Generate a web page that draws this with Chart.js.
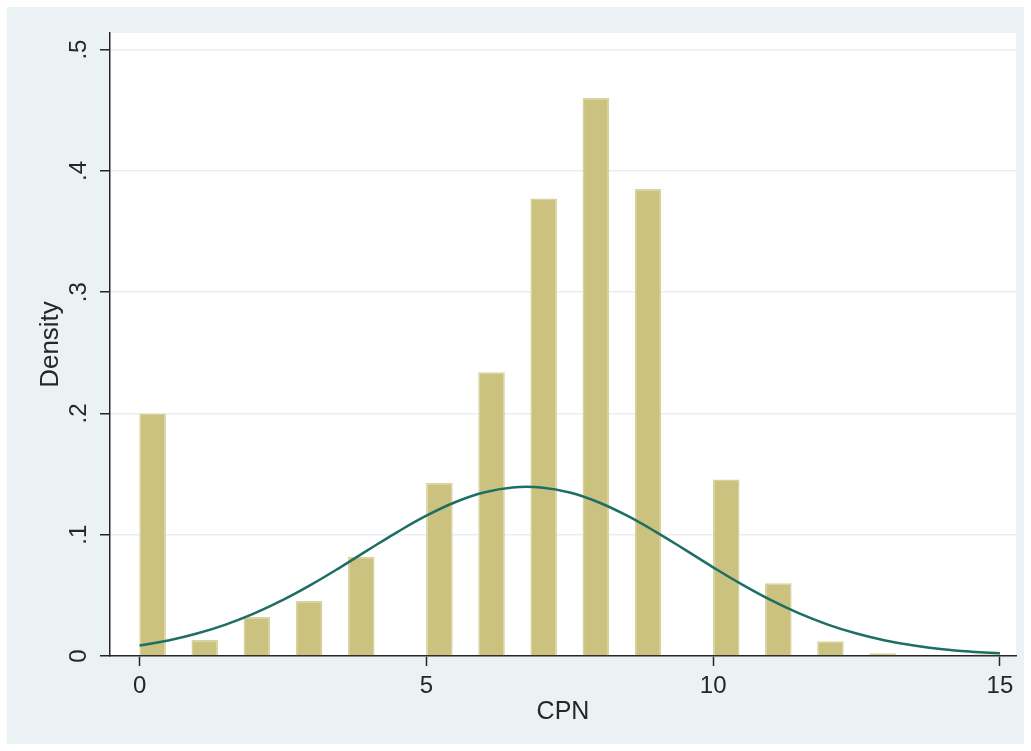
<!DOCTYPE html>
<html lang="en">
<head>
<meta charset="UTF-8">
<title>CPN density</title>
<script src="https://cdn.jsdelivr.net/npm/chart.js"></script>
<style>
  html, body { margin: 0; padding: 0; background: #fff; overflow: hidden; }
  #wrap { width: 1031px; height: 751px; }
</style>
</head>
<body>
<div id="wrap"><canvas id="histChart"></canvas></div>
<script>
// histogram bars: centre of each bar on the CPN axis and its density
const binCenters = [0.227, 1.136, 2.045, 2.955, 3.864, 5.227, 6.136, 7.045, 7.955, 8.864, 10.227, 11.136, 12.045, 12.955, 14.773];
const densities  = [0.200, 0.0132, 0.0321, 0.0453, 0.0818, 0.1427, 0.2340, 0.3772, 0.4602, 0.3850, 0.1456, 0.0599, 0.0121, 0.0022, 0.0015];

// normal curve overlay, every half unit
const curveX = [0, 0.5, 1, 1.5, 2, 2.5, 3, 3.5, 4, 4.5, 5, 5.5, 6, 6.5, 7, 7.5, 8, 8.5, 9, 9.5, 10, 10.5, 11, 11.5, 12, 12.5, 13, 13.5, 14, 14.5, 15];
const curveY = [0.0086, 0.0128, 0.0185, 0.0259, 0.0351, 0.0462, 0.0590, 0.0731, 0.0879, 0.1024, 0.1157, 0.1268, 0.1348, 0.1390, 0.1390, 0.1348, 0.1268, 0.1157, 0.1024, 0.0879, 0.0731, 0.0590, 0.0462, 0.0351, 0.0259, 0.0185, 0.0128, 0.0086, 0.0056, 0.0036, 0.0022];

const xTicks = [0, 5, 10, 15];
const yTicks = [0, 0.1, 0.2, 0.3, 0.4, 0.5];

const FONT = "'Liberation Sans', Arial, sans-serif";
const INK = '#262626';

// light outer frame + white plot region, like the Stata s2color scheme
const stataBackground = {
    id: 'stataBackground',
    beforeDraw(chart) {
        const { ctx, width, height, chartArea: a } = chart;
        ctx.save();
        ctx.fillStyle = '#ffffff';
        ctx.fillRect(0, 0, width, height);
        ctx.fillStyle = '#eaf2f3';
        ctx.fillRect(7, 7, width - 14, height - 14);
        ctx.fillStyle = '#ffffff';
        ctx.fillRect(a.left, a.top, a.right - a.left, a.bottom - a.top);
        ctx.restore();
    }
};

new Chart(document.getElementById('histChart'), {
    type: 'bar',
    data: {
        datasets: [
            {
                type: 'line',
                data: curveX.map((x, i) => ({ x: x, y: curveY[i] })),
                borderColor: '#1d6e64',
                borderWidth: 2.5,
                pointRadius: 0,
                tension: 0.4,
                fill: false,
                order: 0
            },
            {
                type: 'bar',
                data: binCenters.map((x, i) => ({ x: x, y: densities[i] })),
                backgroundColor: '#cac27e',
                borderColor: '#d8d29c',
                borderWidth: 1.5,
                categoryPercentage: 1,
                barPercentage: 0.51,
                order: 1
            }
        ]
    },
    options: {
        responsive: true,
        maintainAspectRatio: false,
        animation: false,
        layout: { padding: { left: 0, top: 33, right: 15, bottom: 0 } },
        plugins: {
            legend: { display: false },
            tooltip: { enabled: false }
        },
        scales: {
            x: {
                type: 'linear',
                offset: false,
                min: -0.516,
                max: 15.28,
                afterBuildTicks: (s) => { s.ticks = xTicks.map(v => ({ value: v })); },
                afterFit: (s) => { s.height = 95; },
                grid: { display: true, offset: false, drawOnChartArea: false, drawTicks: true, tickLength: 10, tickColor: INK, tickWidth: 1.5 },
                border: { display: true, color: INK, width: 1.5 },
                ticks: {
                    autoSkip: false,
                    maxRotation: 0,
                    padding: 6,
                    color: INK,
                    font: { family: FONT, size: 24 },
                    callback: (v) => String(v)
                },
                title: {
                    display: true,
                    text: 'CPN',
                    color: INK,
                    font: { family: FONT, size: 25 },
                    padding: { top: 0, bottom: 24 }
                }
            },
            y: {
                min: 0,
                max: 0.5137,
                afterBuildTicks: (s) => { s.ticks = yTicks.map(v => ({ value: v })); },
                afterFit: (s) => { s.width = 110; },
                grid: { color: '#e7eff1', lineWidth: 1.5, drawTicks: true, tickLength: 10, tickColor: INK, tickWidth: 1.5 },
                border: { display: true, color: INK, width: 1.5 },
                ticks: {
                    autoSkip: false,
                    minRotation: 90,
                    maxRotation: 90,
                    crossAlign: 'center',
                    padding: 11,
                    color: INK,
                    font: { family: FONT, size: 24 },
                    callback: (v) => v === 0 ? '0' : v.toFixed(1).replace(/^0/, '')
                },
                title: {
                    display: true,
                    text: 'Density',
                    color: INK,
                    font: { family: FONT, size: 26 },
                    padding: { top: 35, bottom: 0 }
                }
            }
        }
    },
    plugins: [stataBackground]
});
</script>
</body>
</html>
